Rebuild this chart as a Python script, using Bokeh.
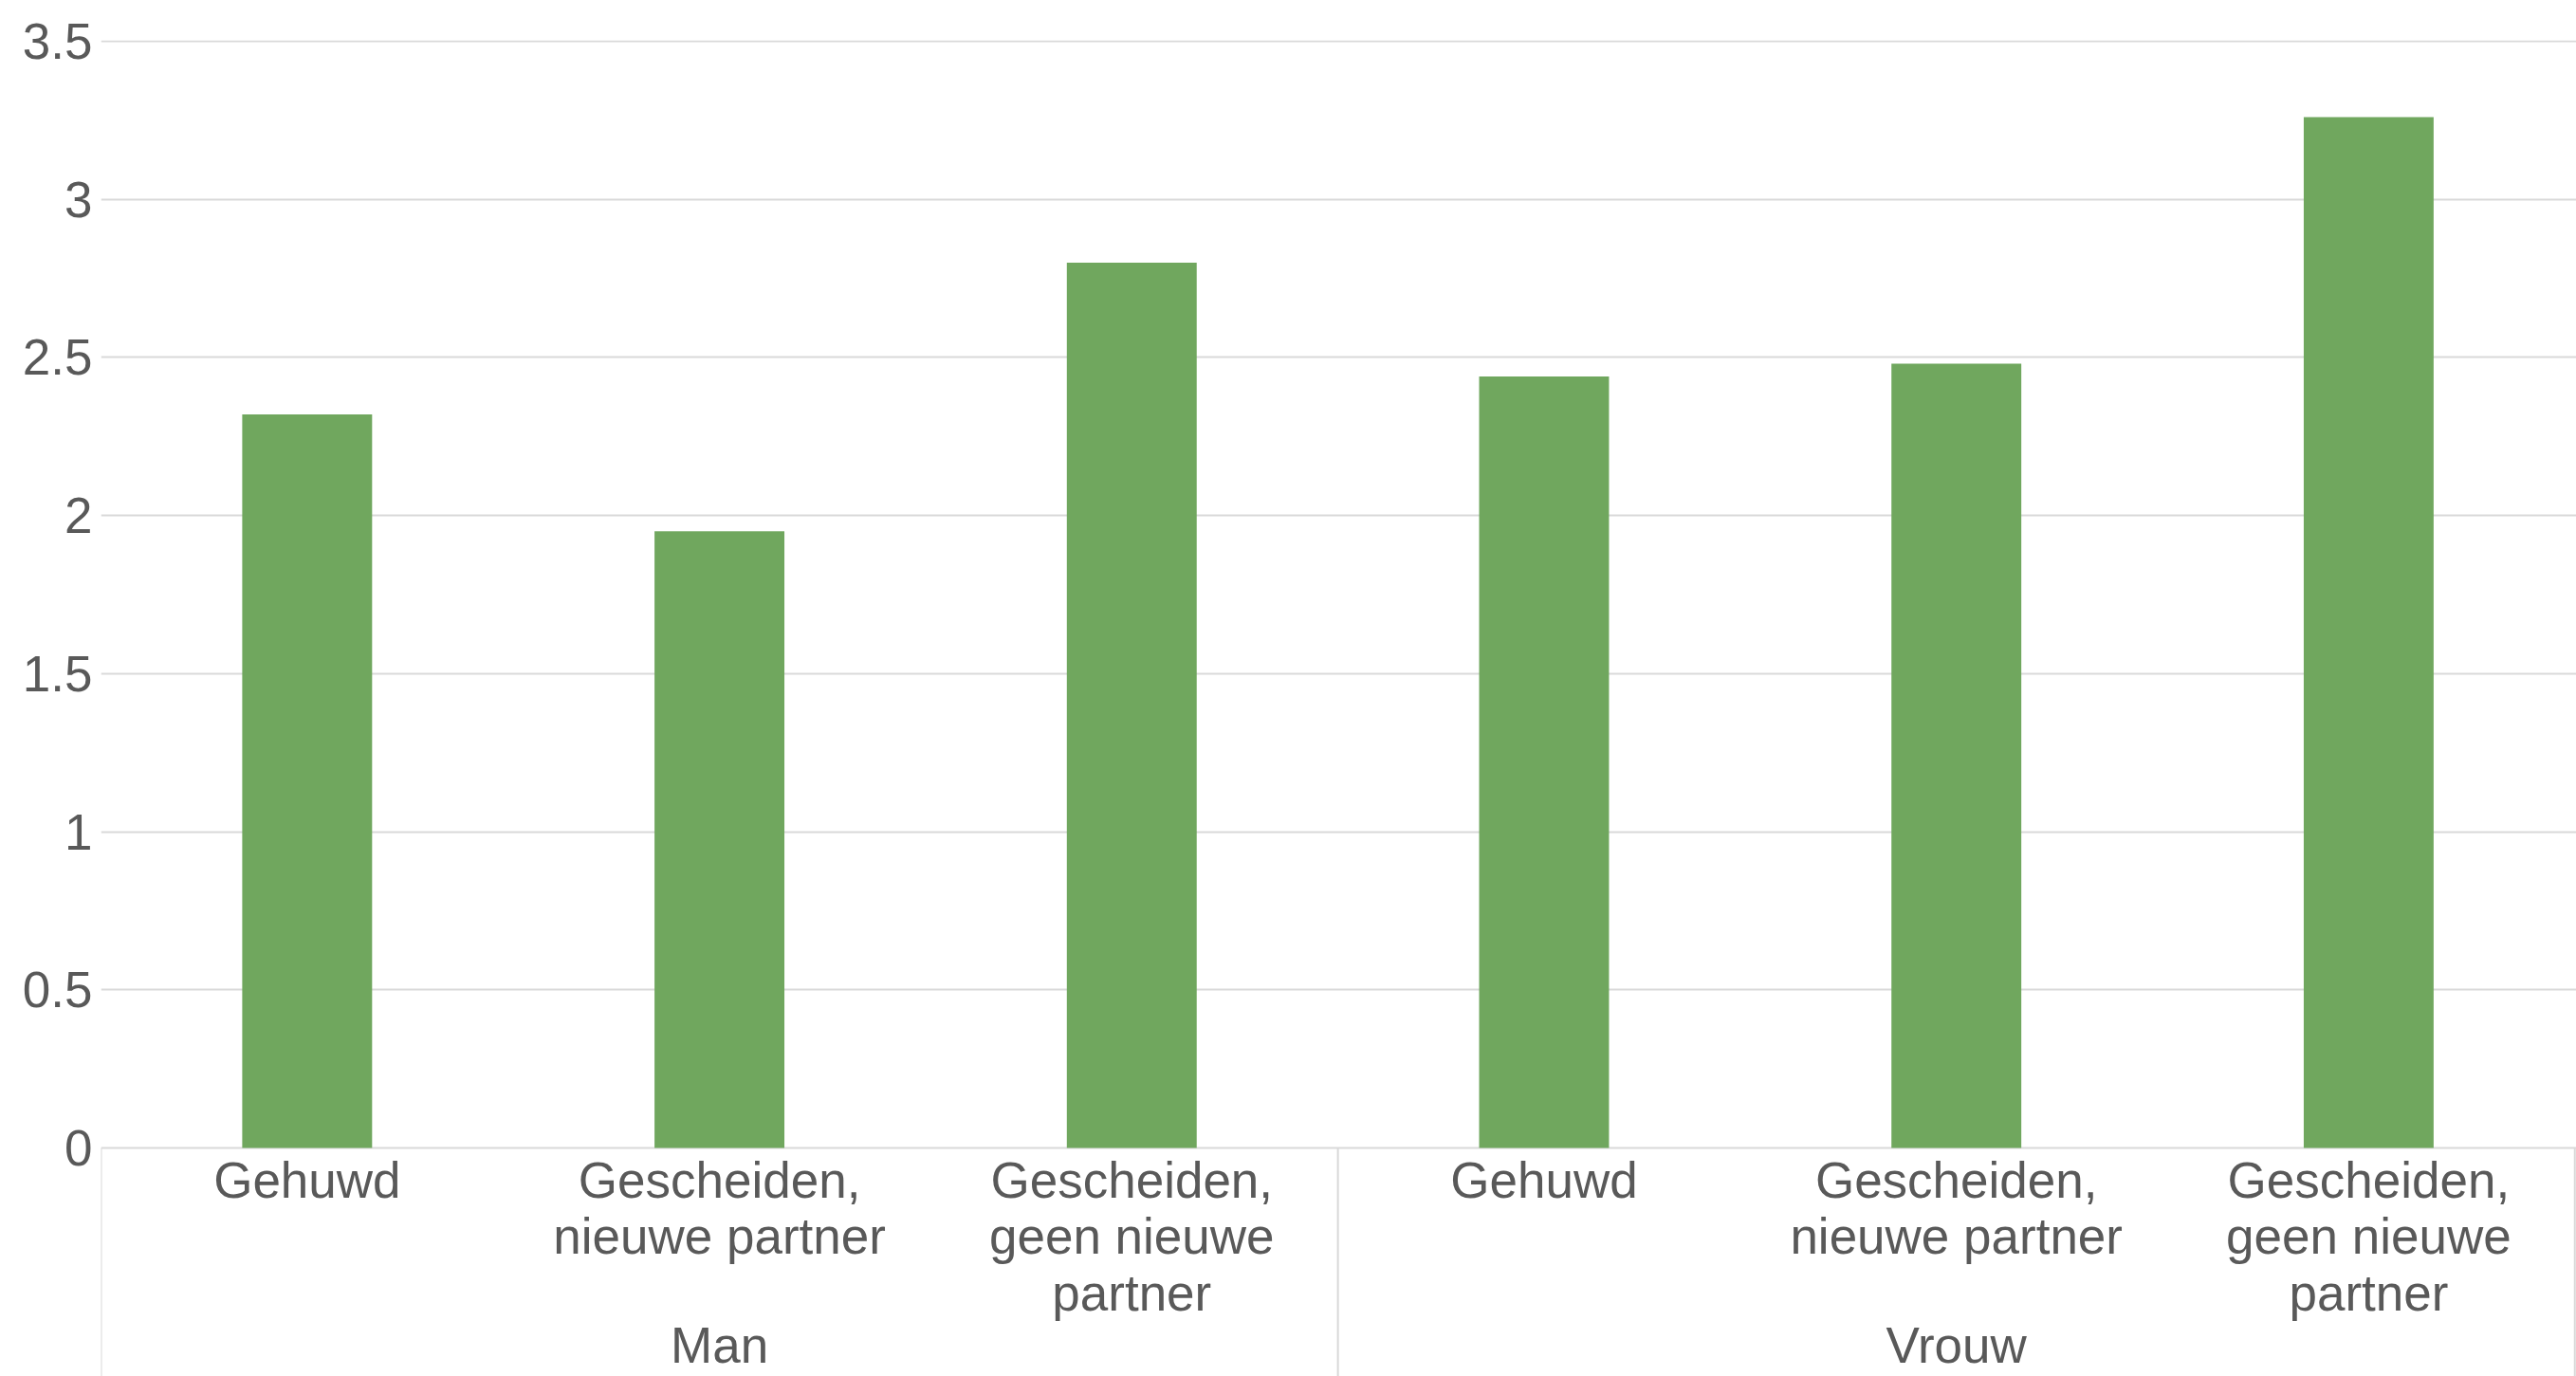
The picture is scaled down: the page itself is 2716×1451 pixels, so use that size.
from bokeh.plotting import figure
from bokeh.models import Range1d, FixedTicker, NumeralTickFormatter, ColumnDataSource
from bokeh.core.properties import value
from bokeh.embed import file_html
from bokeh.resources import INLINE

# ---- data ----
groups = ["Man", "Vrouw"]
categories = ["Gehuwd", "Gescheiden,\nnieuwe partner", "Gescheiden,\ngeen nieuwe\npartner"]
man_values = [2.32, 1.95, 2.80]
vrouw_values = [2.44, 2.48, 3.26]
y_ticks = [0, 0.5, 1, 1.5, 2, 2.5, 3, 3.5]

# ---- style ----
BAR = "#70A75E"
GRID = "#d9d9d9"
TXT = "#595959"
FONT = "Liberation Sans"
FS = "53px"

values = man_values + vrouw_values
n_cat = len(categories)
n = len(values)
xs = [i + 0.5 for i in range(n)]
Y_MIN = -0.7228

p = figure(width=2716, height=1451, output_backend="svg", toolbar_location=None,
           x_range=Range1d(0, n + 0.004), y_range=Range1d(Y_MIN, 3.503),
           x_axis_location=None, min_border_left=106, min_border_right=0,
           min_border_top=42, min_border_bottom=0)
p.outline_line_color = None
p.background_fill_color = "white"
p.border_fill_color = "white"
p.xgrid.grid_line_color = None

# y axis
p.yaxis.ticker = FixedTicker(ticks=y_ticks)
p.yaxis.formatter = NumeralTickFormatter(format="0.[0]")
p.yaxis.axis_line_color = None
p.yaxis.major_tick_line_color = None
p.yaxis.minor_tick_line_color = None
p.yaxis.major_label_standoff = 3
p.yaxis.major_label_text_font = FONT
p.yaxis.major_label_text_font_size = FS
p.yaxis.major_label_text_color = TXT
p.ygrid.ticker = FixedTicker(ticks=y_ticks)
p.ygrid.grid_line_color = GRID
p.ygrid.grid_line_width = 2

# bars
src = ColumnDataSource(dict(x=xs, top=values))
p.vbar(x="x", top="top", bottom=0, width=0.315, source=src,
       fill_color=BAR, line_color=None)

# category separators (below the baseline)
sep_x = [g * n_cat for g in range(len(groups) + 1)]
p.segment(x0=sep_x, x1=sep_x, y0=[0] * len(sep_x), y1=[Y_MIN] * len(sep_x),
          line_color=GRID, line_width=2)

# category labels (multi-line)
lx, ly, lt, loff = [], [], [], []
for g in range(len(groups)):
    for c, cat in enumerate(categories):
        for k, line in enumerate(cat.split("\n")):
            lx.append(g * n_cat + c + 0.5)
            ly.append(0)
            lt.append(line)
            loff.append(34 + 59.5 * k)
lsrc = ColumnDataSource(dict(x=lx, y=ly, text=lt, off=loff))
p.text(x="x", y="y", text="text", y_offset="off", source=lsrc,
       text_font=value(FONT), text_font_size=value(FS), text_color=TXT,
       text_align="center", text_baseline="alphabetic")

# group labels
gsrc = ColumnDataSource(dict(x=[g * n_cat + n_cat / 2 for g in range(len(groups))],
                             y=[0] * len(groups), text=groups,
                             off=[208] * len(groups)))
p.text(x="x", y="y", text="text", y_offset="off", source=gsrc,
       text_font=value(FONT), text_font_size=value(FS), text_color=TXT,
       text_align="center", text_baseline="alphabetic")

open("out.html", "w").write(file_html(p, INLINE))
